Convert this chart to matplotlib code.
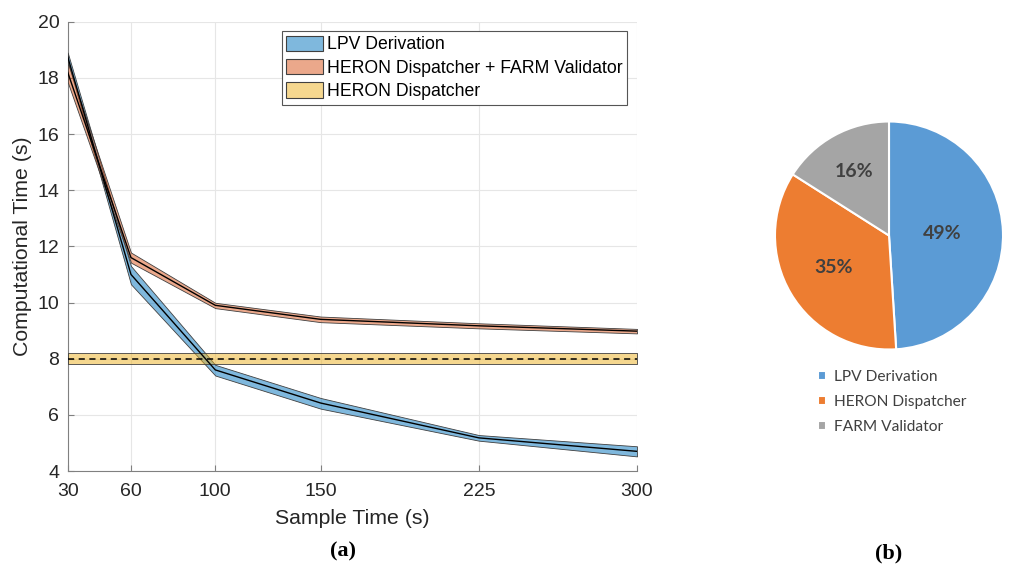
import numpy as np
import matplotlib
matplotlib.use('Agg')
import matplotlib.pyplot as plt
from matplotlib.patches import Patch

plt.rcParams['font.family'] = ['Liberation Sans', 'DejaVu Sans']

# sample time (s)
sample_time = [30, 60, 100, 150, 225, 300]
xtick_labels = ['30', '60', '100', '150', '225', '300']

# LPV derivation band
lpv_mean = [18.75, 11.0, 7.6, 6.42, 5.18, 4.7]
lpv_lo = [18.6, 10.65, 7.4, 6.22, 5.08, 4.52]
lpv_hi = [18.9, 11.3, 7.78, 6.6, 5.28, 4.88]

# HERON dispatcher + FARM validator band
hf_mean = [18.2, 11.6, 9.9, 9.4, 9.17, 8.98]
hf_lo = [17.85, 11.42, 9.8, 9.3, 9.08, 8.9]
hf_hi = [18.55, 11.78, 9.99, 9.5, 9.26, 9.06]

# HERON dispatcher alone (constant)
heron_mean = 8.0
heron_lo = 7.81
heron_hi = 8.19

# pie (b)
pie_labels = ['LPV Derivation', 'HERON Dispatcher', 'FARM Validator']
pie_values = [49, 35, 16]
pie_colors = ['#5B9BD5', '#ED7D31', '#A5A5A5']

c_blue = (0.0, 0.447, 0.741)
c_orange = (0.85, 0.325, 0.098)
c_yellow = (0.929, 0.694, 0.125)
edge = (0.25, 0.25, 0.25)

W, H = 1009, 567
fig = plt.figure(figsize=(W / 100, H / 100), dpi=100)
ax = fig.add_axes([67.7 / W, 1 - 471 / H, (637 - 67.7) / W, (471 - 21.7) / H])

ax.fill_between(sample_time, lpv_lo, lpv_hi, facecolor=c_blue + (0.5,), edgecolor=edge, lw=0.6, zorder=3)
ax.plot(sample_time, lpv_mean, color='k', lw=1.0, zorder=4)

ax.fill_between(sample_time, hf_lo, hf_hi, facecolor=c_orange + (0.5,), edgecolor=edge, lw=0.6, zorder=3)
ax.plot(sample_time, hf_mean, color='k', lw=1.0, zorder=4)

xs = [sample_time[0], sample_time[-1]]
ax.fill_between(xs, [heron_lo] * 2, [heron_hi] * 2, facecolor=c_yellow + (0.5,), edgecolor=edge, lw=0.6, zorder=3)
ax.plot(xs, [heron_mean] * 2, color='k', lw=1.1, ls=(0, (4, 3)), zorder=4)

ax.set_xlim(30, 300)
ax.set_ylim(4, 20)
ax.set_xticks(sample_time)
ax.set_xticklabels(xtick_labels)
ax.set_yticks(np.arange(4, 21, 2))
ax.grid(True, color='#e6e6e6', lw=0.8, zorder=0)
ax.set_axisbelow(True)
for s in ['top', 'right']:
    ax.spines[s].set_visible(False)
for s in ['left', 'bottom']:
    ax.spines[s].set_color('#808080')
    ax.spines[s].set_linewidth(0.8)
ax.tick_params(direction='in', length=4, color='#808080', labelsize=14, labelcolor='#262626', pad=6)
ax.tick_params(axis='x', pad=9)
ax.set_xlabel('Sample Time (s)', fontsize=15.3, color='#262626', labelpad=6)
ax.set_ylabel('Computational Time (s)', fontsize=15.3, color='#262626', labelpad=4)

handles = [Patch(facecolor=c_blue + (0.5,), edgecolor=edge, lw=0.8),
           Patch(facecolor=c_orange + (0.5,), edgecolor=edge, lw=0.8),
           Patch(facecolor=c_yellow + (0.5,), edgecolor=edge, lw=0.8)]
leg = ax.legend(handles, ['LPV Derivation', 'HERON Dispatcher + FARM Validator', 'HERON Dispatcher'],
                loc='upper right', bbox_to_anchor=(0.982, 0.979), fontsize=12.7,
                handlelength=2.1, handleheight=0.97, handletextpad=0.2, labelspacing=0.32,
                borderpad=0.25, borderaxespad=0, fancybox=False, framealpha=1)
leg.get_frame().set_edgecolor('#555555')
leg.get_frame().set_linewidth(0.8)

# pie chart
cx, cy, r = 889, 235.5, 114
ax2 = fig.add_axes([(cx - r) / W, 1 - (cy + r) / H, 2 * r / W, 2 * r / H])
wedges, _ = ax2.pie(pie_values, colors=pie_colors, startangle=90, counterclock=False,
                    wedgeprops=dict(edgecolor='white', linewidth=1.5))
ax2.set_xlim(-1, 1)
ax2.set_ylim(-1, 1)
label_dist = [0.47, 0.56, 0.64]
for w, v, d in zip(wedges, pie_values, label_dist):
    ang = np.deg2rad((w.theta1 + w.theta2) / 2)
    ax2.text(d * np.cos(ang), d * np.sin(ang), f'{v}%', ha='center', va='center',
             fontsize=14, fontweight='bold', color='#404040', family=['Lato', 'DejaVu Sans'])

fig.legend(wedges, pie_labels, loc='upper left', bbox_to_anchor=(818 / W, 1 - 370 / H),
           frameon=False, prop={'family': ['Lato', 'DejaVu Sans'], 'size': 11.2},
           handlelength=0.5, handleheight=0.5, handletextpad=0.55, labelspacing=0.72,
           borderpad=0, borderaxespad=0, labelcolor='#404040')

fig.text(343 / W, 1 - 551 / H, '(a)', ha='center', va='center', fontsize=16, fontweight='bold',
         family=['Liberation Serif', 'DejaVu Serif'])
fig.text(889 / W, 1 - 553 / H, '(b)', ha='center', va='center', fontsize=16, fontweight='bold',
         family=['Liberation Serif', 'DejaVu Serif'])

fig.savefig('out.png', dpi=100)
